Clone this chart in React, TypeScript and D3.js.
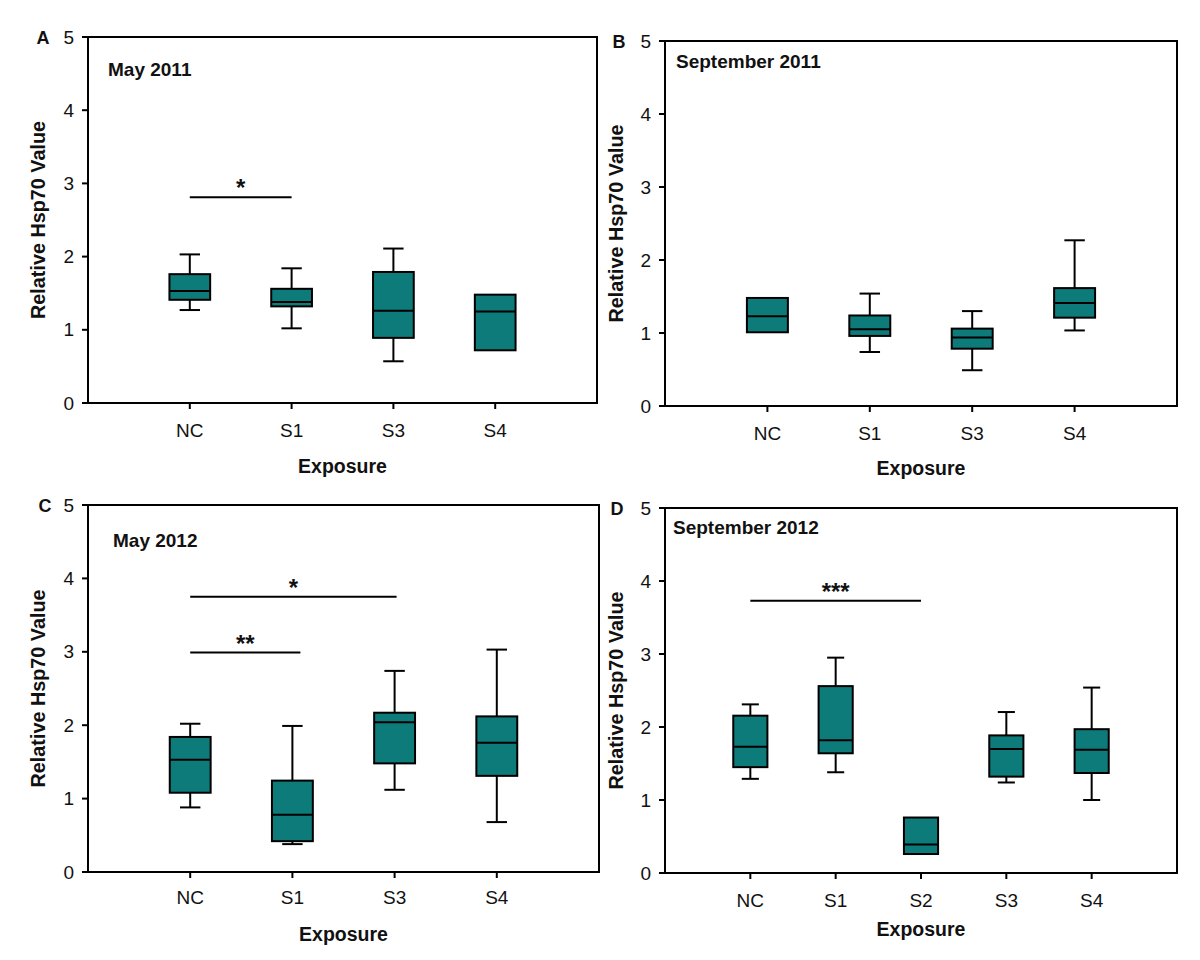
import React from "react";
import * as d3 from "d3";

// ---------- data ----------
const catsA = ["NC", "S1", "S3", "S4"];
const catsB = ["NC", "S1", "S3", "S4"];
const catsC = ["NC", "S1", "S3", "S4"];
const catsD = ["NC", "S1", "S2", "S3", "S4"];

// [whiskerLow, q1, median, q3, whiskerHigh]  (null whisker = none drawn)
const boxesA: (number | null)[][] = [
  [1.27, 1.41, 1.53, 1.76, 2.03],
  [1.02, 1.32, 1.38, 1.56, 1.84],
  [0.57, 0.89, 1.26, 1.79, 2.11],
  [null, 0.72, 1.25, 1.48, null],
];
const boxesB: (number | null)[][] = [
  [null, 1.01, 1.23, 1.48, null],
  [0.74, 0.96, 1.05, 1.24, 1.54],
  [0.49, 0.785, 0.94, 1.06, 1.3],
  [1.035, 1.21, 1.41, 1.615, 2.27],
];
const boxesC: (number | null)[][] = [
  [0.88, 1.08, 1.53, 1.84, 2.02],
  [0.38, 0.42, 0.78, 1.245, 1.99],
  [1.12, 1.48, 2.04, 2.17, 2.74],
  [0.68, 1.31, 1.76, 2.12, 3.03],
];
const boxesD: (number | null)[][] = [
  [1.29, 1.45, 1.73, 2.155, 2.31],
  [1.38, 1.64, 1.82, 2.56, 2.95],
  [null, 0.26, 0.39, 0.76, null],
  [1.24, 1.32, 1.7, 1.885, 2.205],
  [1.0, 1.37, 1.69, 1.97, 2.54],
];

// significance brackets: [fromCategory, toCategory, yValue, label]
const sigA: [string, string, number, string][] = [["NC", "S1", 2.81, "*"]];
const sigB: [string, string, number, string][] = [];
const sigC: [string, string, number, string][] = [
  ["NC", "S3", 3.75, "*"],
  ["NC", "S1", 2.99, "**"],
];
const sigD: [string, string, number, string][] = [["NC", "S2", 3.73, "***"]];

const yTicks = [0, 1, 2, 3, 4, 5];

const titles = ["May 2011", "September 2011", "May 2012", "September 2012"];
const letters = ["A", "B", "C", "D"];

// ---------- layout ----------
const FILL = "#0e7b7b";
const FONT = "Liberation Sans, Arial, sans-serif";

type PanelProps = {
  letter: string;
  title: string;
  cats: string[];
  boxes: (number | null)[][];
  sig: [string, string, number, string][];
  left: number;
  right: number;
  top: number;
  bottom: number;
  titleX: number;
  titleY: number;
  catLabelY: number;
  xTitleY: number;
  yTitleX: number;
  letterX: number;
  sigEndOffset?: number[];
};

function Panel(p: PanelProps) {
  const x = d3.scaleLinear().domain([0, p.cats.length + 1]).range([p.left, p.right]);
  const y = d3.scaleLinear().domain([0, 5]).range([p.bottom, p.top]);
  const step = x(1) - x(0);
  const bw = step * 0.4;
  const cap = bw * 0.5;
  const cx = (c: string) => x(p.cats.indexOf(c) + 1);
  return (
    <g>
      <rect x={p.left} y={p.top} width={p.right - p.left} height={p.bottom - p.top} fill="none" stroke="#000" strokeWidth={2} />
      {yTicks.map((t) => (
        <g key={"yt" + t}>
          <line x1={p.left - 6} x2={p.left} y1={y(t)} y2={y(t)} stroke="#000" strokeWidth={2} />
          <text x={p.left - 14} y={y(t) + 6.5} textAnchor="end" fontSize={19} fontFamily={FONT} fill="#111">
            {t}
          </text>
        </g>
      ))}
      {p.cats.map((c, i) => (
        <g key={"xt" + c}>
          <line x1={x(i + 1)} x2={x(i + 1)} y1={p.bottom} y2={p.bottom + 6} stroke="#000" strokeWidth={2} />
          <text x={x(i + 1)} y={p.catLabelY} textAnchor="middle" fontSize={19} fontFamily={FONT} fill="#111">
            {c}
          </text>
        </g>
      ))}
      {p.boxes.map((b, i) => {
        const [wl, q1, med, q3, wh] = b;
        const xc = x(i + 1);
        return (
          <g key={"b" + i}>
            {wh !== null && (
              <g>
                <line x1={xc} x2={xc} y1={y(q3 as number)} y2={y(wh)} stroke="#000" strokeWidth={2} />
                <line x1={xc - cap / 2} x2={xc + cap / 2} y1={y(wh)} y2={y(wh)} stroke="#000" strokeWidth={2} />
              </g>
            )}
            {wl !== null && (
              <g>
                <line x1={xc} x2={xc} y1={y(q1 as number)} y2={y(wl)} stroke="#000" strokeWidth={2} />
                <line x1={xc - cap / 2} x2={xc + cap / 2} y1={y(wl)} y2={y(wl)} stroke="#000" strokeWidth={2} />
              </g>
            )}
            <rect
              x={xc - bw / 2}
              y={y(q3 as number)}
              width={bw}
              height={y(q1 as number) - y(q3 as number)}
              fill={FILL}
              stroke="#000"
              strokeWidth={2}
            />
            <line x1={xc - bw / 2} x2={xc + bw / 2} y1={y(med as number)} y2={y(med as number)} stroke="#000" strokeWidth={2} />
          </g>
        );
      })}
      {p.sig.map((s, i) => {
        const x1 = cx(s[0]);
        const x2 = cx(s[1]) + (p.sigEndOffset ? p.sigEndOffset[i] : 0);
        return (
          <g key={"s" + i}>
            <line x1={x1} x2={x2} y1={y(s[2])} y2={y(s[2])} stroke="#000" strokeWidth={2} />
            <text x={(x1 + x2) / 2} y={y(s[2]) - 1} textAnchor="middle" fontSize={24} fontWeight="bold" fontFamily={FONT} fill="#111">
              {s[3]}
            </text>
          </g>
        );
      })}
      <text x={p.titleX} y={p.titleY} fontSize={19} fontWeight="bold" fontFamily={FONT} fill="#111">
        {p.title}
      </text>
      <text x={p.letterX} y={p.top + 7} textAnchor="middle" fontSize={18} fontWeight="bold" fontFamily={FONT} fill="#111">
        {p.letter}
      </text>
      <text x={(p.left + p.right) / 2} y={p.xTitleY} textAnchor="middle" fontSize={19.5} fontWeight="bold" fontFamily={FONT} fill="#111">
        Exposure
      </text>
      <text
        transform={`translate(${p.yTitleX},${(p.top + p.bottom) / 2}) rotate(-90)`}
        textAnchor="middle"
        fontSize={19.8}
        fontWeight="bold"
        fontFamily={FONT}
        fill="#111"
      >
        Relative Hsp70 Value
      </text>
    </g>
  );
}

export default function App() {
  return (
    <svg width={1200} height={960} style={{ position: "absolute", left: 0, top: 0, background: "#fff" }}>
      <rect x={0} y={0} width={1200} height={960} fill="#fff" />
      <Panel letter={letters[0]} title={titles[0]} cats={catsA} boxes={boxesA} sig={sigA}
        left={88} right={597} top={37} bottom={403}
        titleX={108} titleY={76} catLabelY={437} xTitleY={473} yTitleX={45} letterX={43} />
      <Panel letter={letters[1]} title={titles[1]} cats={catsB} boxes={boxesB} sig={sigB}
        left={665} right={1177} top={41} bottom={406}
        titleX={676} titleY={68} catLabelY={440} xTitleY={475} yTitleX={623} letterX={619} />
      <Panel letter={letters[2]} title={titles[2]} cats={catsC} boxes={boxesC} sig={sigC}
        left={88} right={599} top={505} bottom={872}
        titleX={113} titleY={547} catLabelY={904} xTitleY={941} yTitleX={45} letterX={45} sigEndOffset={[2, 8]} />
      <Panel letter={letters[3]} title={titles[3]} cats={catsD} boxes={boxesD} sig={sigD}
        left={665} right={1177} top={508} bottom={873}
        titleX={673} titleY={534} catLabelY={907} xTitleY={936} yTitleX={623} letterX={617} />
    </svg>
  );
}
